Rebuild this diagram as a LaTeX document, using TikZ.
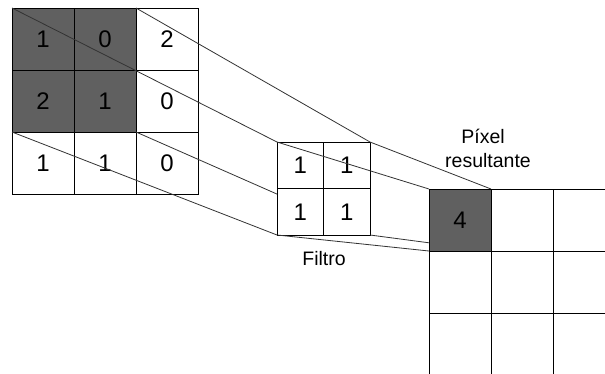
\documentclass[tikz,border=0pt]{standalone}
\usepackage{fontspec}
\setmainfont{Liberation Sans}
\definecolor{darkcell}{RGB}{96,96,96}
\pgfdeclarelayer{gridL}
\pgfdeclarelayer{linesA}
\pgfdeclarelayer{filterL}
\pgfdeclarelayer{linesB}
\pgfsetlayers{gridL,linesA,filterL,linesB,main}
\begin{document}
\begin{tikzpicture}[x=1pt,y=-1pt,
  cellA/.style={draw=black, line width=1pt, fill=white, minimum size=62pt,
    inner sep=0pt, outer sep=0pt, font=\fontsize{24}{28}\selectfont},
  cellF/.style={cellA, minimum size=46.5pt},
  dark/.style={fill=darkcell},
  conn/.style={draw=black!80, line width=0.8pt},
  lbl/.style={font=\fontsize{19.5}{23}\selectfont, anchor=base, inner sep=0pt}]
\useasboundingbox (0,0) rectangle (605,373);
% input image
\begin{pgfonlayer}{gridL}
\node[cellA,dark] (i11) at (43,39) {1};
\node[cellA,dark] (i12) at (105,39) {0};
\node[cellA] (i13) at (167,39) {2};
\node[cellA,dark] (i21) at (43,101) {2};
\node[cellA,dark] (i22) at (105,101) {1};
\node[cellA] (i23) at (167,101) {0};
\node[cellA] (i31) at (43,163) {1};
\node[cellA] (i32) at (105,163) {1};
\node[cellA] (i33) at (167,163) {0};
\end{pgfonlayer}
% filter
\begin{pgfonlayer}{filterL}
\node[cellF] (f11) at (300.25,165.25) {1};
\node[cellF] (f12) at (346.75,165.25) {1};
\node[cellF] (f21) at (300.25,211.75) {1};
\node[cellF] (f22) at (346.75,211.75) {1};
\end{pgfonlayer}
% output
\node[cellA,dark] (o11) at (460,220) {4};
\node[cellA] (o12) at (522,220) {};
\node[cellA] (o13) at (584,220) {};
\node[cellA] (o21) at (460,282) {};
\node[cellA] (o22) at (522,282) {};
\node[cellA] (o23) at (584,282) {};
\node[cellA] (o31) at (460,344) {};
\node[cellA] (o32) at (522,344) {};
\node[cellA] (o33) at (584,344) {};
% connectors input -> filter
\begin{pgfonlayer}{linesA}
\draw[conn] (i11.north west) -- (f11.north west);
\draw[conn] (i12.north east) -- (f12.north east);
\draw[conn] (i21.south west) -- (f21.south west);
\draw[conn] (i22.south east) -- (f22.south east);
\end{pgfonlayer}
% connectors filter -> output
\begin{pgfonlayer}{linesB}
\draw[conn] (f11.north west) -- (o11.north west);
\draw[conn] (f12.north east) -- (o11.north east);
\draw[conn] (f21.south west) -- (o11.south west);
\draw[conn] (f22.south east) -- (o11.south east);
\end{pgfonlayer}
% labels
\node[lbl] (lp1) at (483,143) {Píxel};
\node[lbl] (lp2) at (488,167) {resultante};
\node[lbl] (lf) at (324,265) {Filtro};
\end{tikzpicture}
\end{document}
